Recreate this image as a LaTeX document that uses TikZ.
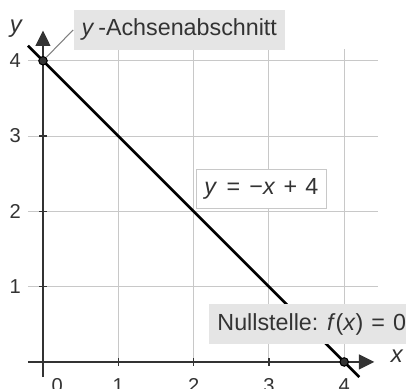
\documentclass[tikz,border=0pt]{standalone}
\usepackage{fontspec}
\setmainfont{Liberation Sans}
\usetikzlibrary{arrows.meta}
\definecolor{gridc}{HTML}{C8C8C8}
\definecolor{axisc}{HTML}{333333}
\definecolor{textc}{HTML}{333333}
\definecolor{boxc}{HTML}{E5E5E5}
\tikzset{
  gridline/.style={gridc, line width=0.4pt},
  axisline/.style={axisc, line width=0.6pt, -{Triangle[length=5.8pt,width=5.6pt]}},
  tickline/.style={axisc, line width=0.5pt},
  ticklabel/.style={text=textc, font=\fontsize{7.6}{9}\selectfont, inner sep=1pt},
  funcline/.style={black, line width=1pt},
  dotpt/.style={circle, fill=axisc, draw=black, line width=0.4pt, inner sep=0pt, minimum size=3.2pt},
  graybox/.style={fill=boxc, text=textc, font=\fontsize{8.8}{10}\selectfont, inner xsep=3pt, inner ysep=3.5pt},
  whitebox/.style={fill=white, draw=gridc, line width=0.4pt, text=textc, font=\fontsize{8.8}{10}\selectfont, inner xsep=3pt, inner ysep=3.5pt},
  leader/.style={gray, line width=0.4pt}
}
\begin{document}
\begin{tikzpicture}
\useasboundingbox (-0.571,-0.359) rectangle (4.821,4.807);
\clip (-0.571,-0.359) rectangle (4.821,4.807);
% grid
\foreach \i in {1,2,3,4} {
  \draw[gridline] (-0.2,\i) -- (4.45,\i);
  \draw[gridline] (\i,0) -- (\i,4.15);
}
% axes
\coordinate (xs) at (-0.2,0);
\coordinate (xe) at (4.4,0);
\coordinate (ys) at (0,-0.2);
\coordinate (ye) at (0,4.4);
\draw[axisline] (xs) -- (xe);
\draw[axisline] (ys) -- (ye);
\node[text=textc, font=\fontsize{9}{10}\selectfont\itshape] (xl) at (4.70,0.07) {x};
\node[text=textc, font=\fontsize{9}{10}\selectfont\itshape] (yl) at (-0.36,4.42) {y};
% ticks
\foreach \i in {1,2,3,4} {
  \draw[tickline] (\i,-0.05) -- (\i,0.05);
  \draw[tickline] (-0.05,\i) -- (0.05,\i);
  \node[ticklabel] at (\i,-0.31) {\i};
  \node[ticklabel] at (-0.37,\i) {\i};
}
\node[ticklabel] at (0.19,-0.31) {0};
% function
\coordinate (fs) at (-0.2,4.2);
\coordinate (fe) at (4.2,-0.2);
\draw[funcline] (fs) -- (fe);
\node[dotpt] (p1) at (0,4) {};
\node[dotpt] (p2) at (4,0) {};
% labels
\node[graybox] (lab1) at (1.81,4.41) {\textit{y}\,-Achsenabschnitt};
\draw[leader] (p1) -- (lab1.west);
\node[graybox] (lab2) at (3.57,0.5) {Nullstelle: \textit{f}(\textit{x})\hspace{0.35em}=\hspace{0.35em}0};
\node[whitebox] (lab3) at (2.90,2.30) {\textit{y}\hspace{0.4em}=\hspace{0.4em}−\textit{x}\hspace{0.35em}+\hspace{0.35em}4};
\end{tikzpicture}
\end{document}
